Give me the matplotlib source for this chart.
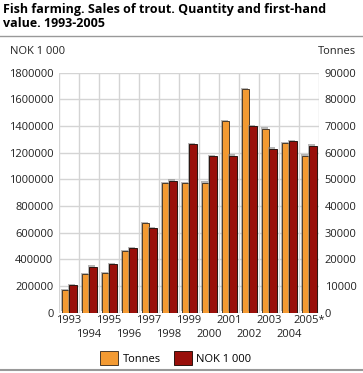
import matplotlib
matplotlib.use("Agg")
import matplotlib.pyplot as plt
import matplotlib.patheffects as pe
import numpy as np
from matplotlib.patches import Rectangle
from matplotlib.lines import Line2D

plt.rcParams['font.family'] = ['Open Sans', 'DejaVu Sans']

years = ["1993", "1994", "1995", "1996", "1997", "1998", "1999",
         "2000", "2001", "2002", "2003", "2004", "2005*"]
tonnes = [8500, 14500, 14750, 23100, 33500, 48600, 48500,
          48750, 71900, 83750, 69000, 63500, 58900]
nok = [205000, 345000, 365000, 482500, 632500, 990000, 1262500,
       1172500, 1177500, 1397500, 1230000, 1287500, 1252500]
left_ticks = list(range(0, 1800001, 200000))
right_ticks = list(range(0, 90001, 10000))

ORANGE = "#F39A32"
RED = "#990F0A"
EDGE_O = "#4a3a2a"
EDGE_R = "#2a1510"
GRID = "#d4d4d4"
TXT = "#222222"

W, H = 363, 373
fig = plt.figure(figsize=(W / 100, H / 100), dpi=100)
ax = fig.add_axes([59 / W, 1 - 312.7 / H, 260 / W, 240 / H])
ax2 = ax.twinx()
ax.set_zorder(2)
ax2.set_zorder(1)
ax.patch.set_visible(False)

shadow = [pe.SimplePatchShadow(offset=(-1, 1), shadow_rgbFace="#888888", alpha=0.6), pe.Normal()]

x = np.arange(len(years))
bw = 0.36
b1 = ax2.bar(x - 0.16, tonnes, width=bw, color=ORANGE, edgecolor=EDGE_O, linewidth=0.7, zorder=3)
b2 = ax.bar(x + 0.2, nok, width=bw, color=RED, edgecolor=EDGE_R, linewidth=0.7, zorder=3)
for p in list(b1) + list(b2):
    p.set_path_effects(shadow)

ax.set_ylim(0, 1800000)
ax2.set_ylim(0, 90000)
ax.set_xlim(-0.5, len(years) - 0.5)
ax.set_yticks(left_ticks)
ax.set_yticklabels([str(v) for v in left_ticks])
ax2.set_yticks(right_ticks)
ax2.set_yticklabels([str(v) for v in right_ticks])

# grid (on the lower axes so that all bars are above it)
for v in right_ticks:
    ax2.axhline(v, color=GRID, lw=1, zorder=0)
for b in np.arange(-0.5, len(years), 1.0):
    ax2.axvline(b, color=GRID, lw=1, zorder=0)

ax.set_xticks(x)
ax.set_xticklabels(years)
for i, t in enumerate(ax.xaxis.get_major_ticks()):
    t.set_pad(2 if i % 2 == 0 else 11.5)

for a in (ax, ax2):
    for s in a.spines.values():
        s.set_visible(False)
    a.tick_params(length=0, labelsize=8, colors=TXT)
ax.tick_params(axis='y', pad=4)
ax2.tick_params(axis='y', pad=4)

# titles and labels
fig.text(3 / W, 1 - 13 / H, "Fish farming. Sales of trout. Quantity and first-hand",
         fontsize=9, fontweight='bold', ha='left', va='baseline', color='black')
fig.text(3 / W, 1 - 27 / H, "value. 1993-2005",
         fontsize=9, fontweight='bold', ha='left', va='baseline', color='black')
fig.add_artist(Line2D([0, 1], [1 - 36 / H, 1 - 36 / H], color="#999999", lw=1))
fig.add_artist(Line2D([0, 1], [1 - 370 / H, 1 - 370 / H], color="#999999", lw=1.5))
fig.text(10 / W, 1 - 52 / H, "NOK 1 000", fontsize=8, ha='left', va='center', color=TXT)
fig.text(356 / W, 1 - 52 / H, "Tonnes", fontsize=8, ha='right', va='center', color=TXT)

# legend
leg_handles = [Rectangle((0, 0), 1, 1, facecolor=ORANGE, edgecolor=EDGE_O, lw=0.7),
               Rectangle((0, 0), 1, 1, facecolor=RED, edgecolor=EDGE_R, lw=0.7)]
fig.legend(leg_handles, ["Tonnes", "NOK 1 000"], loc='center',
           bbox_to_anchor=(176 / W, 1 - 358 / H), ncol=2, frameon=False,
           fontsize=8, handlelength=1.6, handleheight=1.5, columnspacing=1.2,
           handletextpad=0.4)

fig.savefig("out.png", dpi=100)
